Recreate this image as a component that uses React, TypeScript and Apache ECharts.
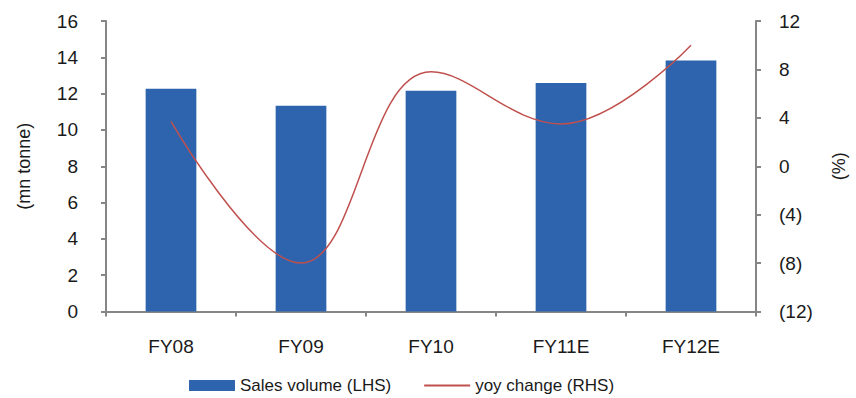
import React, { useEffect, useRef } from "react";
import * as echarts from "echarts";

const categories = ["FY08", "FY09", "FY10", "FY11E", "FY12E"];
const salesVolume = [12.27, 11.33, 12.16, 12.58, 13.83];
const yoyChange = [3.7, -8.0, 7.8, 3.5, 10.0];
const leftTicks = { min: 0, max: 16, interval: 2 };
const rightTicks = { min: -12, max: 12, interval: 4 };

const FONT = "Liberation Sans";
const TEXT = "#1a1a1a";
const AXIS = "#868686";
const LABEL_SIZE = 19;

export default function App() {
  const ref = useRef<HTMLDivElement>(null);

  useEffect(() => {
    document.body.style.margin = "0";
    const chart = echarts.init(ref.current!, undefined, { renderer: "svg" });
    chart.setOption({
      animation: false,
      textStyle: { fontFamily: FONT, color: TEXT },
      grid: { left: 106, right: 96, top: 21, bottom: 86.5, containLabel: false },
      legend: {
        bottom: -1,
        left: 184,
        itemWidth: 46,
        itemHeight: 11,
        itemGap: 32,
        textStyle: { fontFamily: FONT, fontSize: 17, color: TEXT },
        data: [
          { name: "Sales volume (LHS)", icon: "rect" },
          { name: "yoy change (RHS)", itemStyle: { opacity: 0 } },
        ],
      },
      xAxis: {
        type: "category",
        data: categories,
        axisLine: { lineStyle: { color: AXIS, width: 2 } },
        axisTick: { show: true, length: 5, lineStyle: { color: AXIS, width: 2 } },
        axisLabel: { fontSize: LABEL_SIZE, color: TEXT, margin: 25, fontFamily: FONT },
      },
      yAxis: [
        {
          type: "value",
          ...leftTicks,
          position: "left",
          name: "(mn tonne)",
          nameLocation: "middle",
          nameGap: 73,
          nameRotate: 90,
          nameTextStyle: { fontSize: 18, color: TEXT, fontFamily: FONT },
          splitLine: { show: false },
          axisLine: { show: true, lineStyle: { color: AXIS, width: 2 } },
          axisTick: { show: true, length: 5, lineStyle: { color: AXIS, width: 2 } },
          axisLabel: { fontSize: LABEL_SIZE, color: TEXT, margin: 28, fontFamily: FONT },
        },
        {
          type: "value",
          ...rightTicks,
          position: "right",
          name: "(%)",
          nameLocation: "middle",
          nameGap: 74,
          nameRotate: 90,
          nameTextStyle: { fontSize: 18, color: TEXT, fontFamily: FONT },
          splitLine: { show: false },
          axisLine: { show: true, lineStyle: { color: AXIS, width: 2 } },
          axisTick: { show: true, length: 5, lineStyle: { color: AXIS, width: 2 } },
          axisLabel: {
            fontSize: LABEL_SIZE,
            color: TEXT,
            margin: 23,
            fontFamily: FONT,
            formatter: (v: number) => (v < 0 ? `(${Math.abs(v)})` : `${v}`),
          },
        },
      ],
      series: [
        {
          name: "Sales volume (LHS)",
          type: "bar",
          data: salesVolume,
          barWidth: "39%",
          itemStyle: { color: "#2e64ae" },
          yAxisIndex: 0,
        },
        {
          name: "yoy change (RHS)",
          type: "line",
          data: yoyChange,
          yAxisIndex: 1,
          smooth: 0.4,
          symbol: "none",
          lineStyle: { color: "#c0504d", width: 1.5 },
          itemStyle: { color: "#c0504d" },
        },
      ],
    });
    return () => chart.dispose();
  }, []);

  return <div ref={ref} style={{ width: 856, height: 398 }} />;
}
